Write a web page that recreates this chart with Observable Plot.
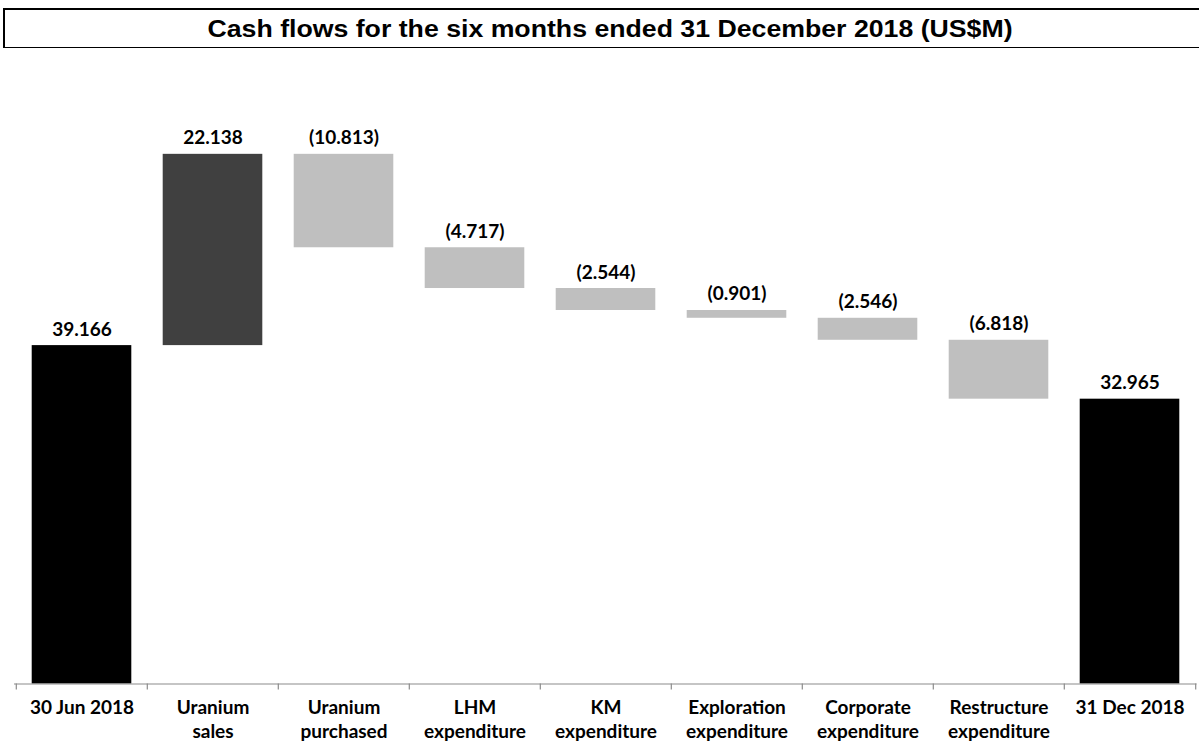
<!DOCTYPE html>
<html>
<head>
<meta charset="utf-8">
<script src="https://cdn.jsdelivr.net/npm/d3@7"></script>
<script src="https://cdn.jsdelivr.net/npm/@observablehq/plot@0.6"></script>
<style>
  html, body { margin: 0; padding: 0; background: #fff; overflow: hidden; width: 1199px; height: 743px; }
  #title {
    box-sizing: border-box;
    margin: 8px 0 0 3px;
    width: 1212px;
    height: 40px;
    border-top: 2px solid #000;
    border-left: 2px solid #000;
    border-bottom: 1.5px solid #000;
    display: flex; align-items: center; justify-content: center;
    font-family: "Liberation Sans", Arial, sans-serif;
    font-weight: bold; font-size: 23px; color: #000;
  }
  #title span { display: inline-block; transform: scaleX(1.16); position: relative; top: 1px; }
  #chart svg { display: block; }
</style>
</head>
<body>
<div id="title"><span>Cash flows for the six months ended 31 December 2018 (US$M)</span></div>
<div id="chart"></div>
<script>
const categories = ["30 Jun 2018", "Uranium sales", "Uranium purchased", "LHM expenditure", "KM expenditure", "Exploration expenditure", "Corporate expenditure", "Restructure expenditure", "31 Dec 2018"];
const tickLabels = ["30 Jun 2018", "Uranium\nsales", "Uranium\npurchased", "LHM\nexpenditure", "KM\nexpenditure", "Exploration\nexpenditure", "Corporate\nexpenditure", "Restructure\nexpenditure", "31 Dec 2018"];
const values = [39.166, 22.138, -10.813, -4.717, -2.544, -0.901, -2.546, -6.818, 32.965];
const kinds = ["total", "increase", "decrease", "decrease", "decrease", "decrease", "decrease", "decrease", "total"];
const valueLabels = ["39.166", "22.138", "(10.813)", "(4.717)", "(2.544)", "(0.901)", "(2.546)", "(6.818)", "32.965"];

let running = 0;
const rows = categories.map((c, i) => {
  let y1, y2;
  if (kinds[i] === "total") { y1 = 0; y2 = values[i]; running = values[i]; }
  else { y1 = running; y2 = running + values[i]; running = y2; }
  return {cat: c, y1, y2, top: Math.max(y1, y2), kind: kinds[i], label: valueLabels[i], tick: tickLabels[i]};
});

const W = 1199, H = 696;
const mL = 14, mR = 2.4;
const step = (W - mL - mR) / categories.length;

const chart = Plot.plot({
  width: W,
  height: H,
  marginLeft: mL,
  marginRight: mR,
  marginTop: 30.7,
  marginBottom: 60.5,
  style: {fontFamily: "Lato, sans-serif", fontSize: "19px", color: "#000", background: "#fff", overflow: "visible"},
  x: {type: "band", domain: categories, padding: 0, axis: null},
  y: {domain: [0, 70], axis: null},
  color: {domain: ["total", "increase", "decrease"], range: ["#000000", "#404040", "#bfbfbf"]},
  marks: [
    Plot.barY(rows, {x: "cat", y1: "y1", y2: "y2", fill: "kind", insetLeft: 15.7, insetRight: 15.7}),
    Plot.ruleY([0], {stroke: "#8c8c8c", strokeWidth: 1.2}),
    Plot.ruleX(categories, {x: d => d, dx: -step / 2, y1: 0, y2: 0, insetBottom: -6, stroke: "#8c8c8c", strokeWidth: 1.2}),
    Plot.ruleX(categories.slice(-1), {x: d => d, dx: step / 2, y1: 0, y2: 0, insetBottom: -6, stroke: "#8c8c8c", strokeWidth: 1.2}),
    Plot.text(rows, {x: "cat", y: "top", text: "label", lineAnchor: "bottom", dy: -10, fontWeight: "bold", fontSize: 19, fill: "#000"}),
    Plot.text(rows, {x: "cat", y: 0, text: "tick", lineAnchor: "top", lineHeight: 1.24, dy: 13.5, fontWeight: "bold", fontSize: 19, fill: "#000"})
  ]
});
document.getElementById("chart").appendChild(chart);
</script>
</body>
</html>
